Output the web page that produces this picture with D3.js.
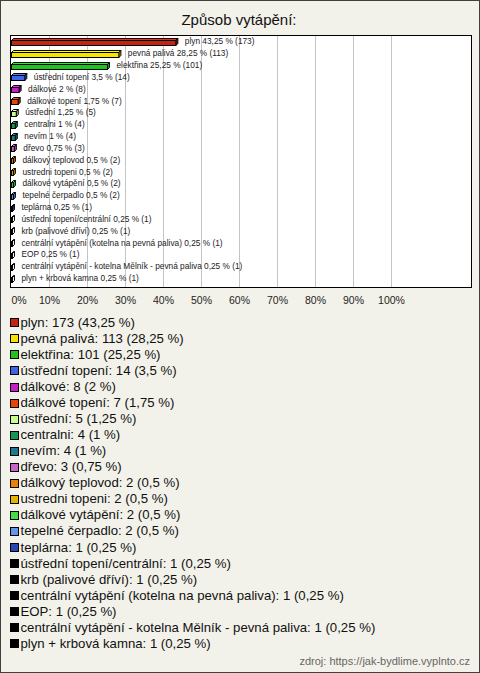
<!DOCTYPE html>
<html><head><meta charset="utf-8">
<script src="https://cdn.jsdelivr.net/npm/d3@7"></script>
<style>
html,body{margin:0;padding:0;background:#f3f2ea;}
svg{display:block;font-family:"Liberation Sans",Arial,sans-serif;}
</style></head>
<body><svg id="c" width="480" height="673"></svg>
<script>
const title = "Způsob vytápění:";
const source = "zdroj: https://jak-bydlime.vyplnto.cz";
const categories = ["plyn","pevná palivá","elektřina","ústřední topení","dálkové","dálkové topení","ústřední","centralni","nevím","dřevo","dálkový teplovod","ustredni topeni","dálkové vytápění","tepelné čerpadlo","teplárna","ústřední topení/centrální","krb (palivové dříví)","centrální vytápění (kotelna na pevná paliva)","EOP","centrální vytápění - kotelna Mělník - pevná paliva","plyn + krbová kamna"];
const counts = [173,113,101,14,8,7,5,4,4,3,2,2,2,2,1,1,1,1,1,1,1];
const percents = [43.25,28.25,25.25,3.5,2,1.75,1.25,1,1,0.75,0.5,0.5,0.5,0.5,0.25,0.25,0.25,0.25,0.25,0.25,0.25];
const colors = ["#c42412","#f4e400","#1ec31e","#3c64e6","#c81ec8","#e6460a","#c8ff8c","#14965a","#1e788c","#c864c8","#e6820a","#e6b400","#46dc46","#6496e6","#2846b4","#000000","#000000","#000000","#000000","#000000","#000000"];
const xTicks = [0,10,20,30,40,50,60,70,80,90,100];

const svg = d3.select("#c");
const W = 480, H = 673;
const fmt = v => String(v).replace(".", ",");

svg.append("rect").attr("x",0.5).attr("y",0.5).attr("width",W-1).attr("height",H-1)
  .attr("fill","#f3f2ea").attr("stroke","#404040");

svg.append("text").attr("x",239).attr("y",25).attr("text-anchor","middle")
  .attr("font-size",15).attr("fill","#111").text(title);

const plot = {l:10.5, t:35.5, r:471.5, b:287.5};
svg.append("rect").attr("x",plot.l).attr("y",plot.t).attr("width",plot.r-plot.l).attr("height",plot.b-plot.t)
  .attr("fill","#fff");

const x = d3.scaleLinear().domain([0,100]).range([11,391]);
const y = d3.scaleBand().domain(categories).range([35.5,284]);

svg.append("g").selectAll("line").data(xTicks.filter(d=>d>0)).join("line")
  .attr("x1",d=>Math.round(x(d))+0.5).attr("x2",d=>Math.round(x(d))+0.5)
  .attr("y1",plot.t).attr("y2",plot.b).attr("stroke","#c4c4c4");

svg.append("rect").attr("x",plot.l).attr("y",plot.t).attr("width",plot.r-plot.l).attr("height",plot.b-plot.t)
  .attr("fill","none").attr("stroke","#000");

const ax = svg.append("g").attr("transform",`translate(0,${plot.b})`)
  .call(d3.axisBottom(x).tickValues(xTicks).tickFormat(d=>d+"%").tickSize(0).tickPadding(9));
ax.select(".domain").remove();
ax.selectAll("text").attr("font-size",10.5).attr("fill","#222").attr("font-family","Liberation Sans, Arial, sans-serif");
ax.selectAll(".tick").filter(d=>d===0).select("text").attr("text-anchor","start");

const d3d = 2, bh = 5;
const bars = svg.append("g");
categories.forEach((c,i)=>{
  const cy = y(c) + y.bandwidth()/2;
  const x0 = x(0)+0.5, x1 = x(percents[i])+0.5;
  const yt = Math.round(cy - bh/2 + 1) + 0.5, yb = yt + bh;
  const col = d3.color(colors[i]);
  const top = col.brighter(0.6).formatHex(), side = col.darker(0.6).formatHex();
  bars.append("path").attr("d",`M${x0},${yt}L${x0+d3d},${yt-d3d}L${x1+d3d},${yt-d3d}L${x1},${yt}Z`)
    .attr("fill", colors[i]==="#000000" ? "#fff" : top).attr("stroke","#000").attr("stroke-width",1);
  bars.append("path").attr("d",`M${x1},${yt}L${x1+d3d},${yt-d3d}L${x1+d3d},${yb-d3d}L${x1},${yb}Z`)
    .attr("fill", colors[i]==="#000000" ? "#fff" : side).attr("stroke","#000").attr("stroke-width",1);
  bars.append("rect").attr("x",x0).attr("y",yt).attr("width",Math.max(0,x1-x0)).attr("height",bh)
    .attr("fill", colors[i]==="#000000" ? "#fff" : colors[i]).attr("stroke","#000").attr("stroke-width",1);
  bars.append("text").attr("x",x1+d3d+7).attr("y",cy+3)
    .attr("font-size",8.3).attr("fill","#222")
    .text(`${c} ${fmt(percents[i])} % (${counts[i]})`);
});

const leg = svg.append("g");
const ly = d3.scaleLinear().domain([0,20]).range([322.3,643.3]);
categories.forEach((c,i)=>{
  const cy = ly(i);
  leg.append("rect").attr("x",10.5).attr("y",Math.round(cy-4)+0.5).attr("width",8).attr("height",8)
    .attr("fill",colors[i]).attr("stroke","#000");
  leg.append("text").attr("x",20.5).attr("y",cy+4.5).attr("font-size",13.2).attr("fill","#111")
    .text(`${c}: ${counts[i]} (${fmt(percents[i])} %)`);
});

svg.append("text").attr("x",470).attr("y",665).attr("text-anchor","end")
  .attr("font-size",11).attr("fill","#666").text(source);
</script></body></html>
